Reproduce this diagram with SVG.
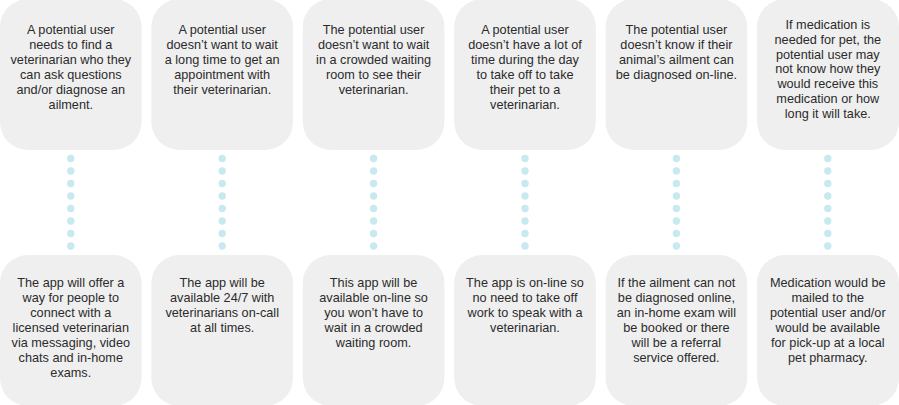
<svg xmlns="http://www.w3.org/2000/svg" width="899" height="405" viewBox="0 0 899 405">
<style>
.box{fill:#efefef;}
.t{font-family:"Liberation Sans",Arial,Helvetica,sans-serif;font-size:12.7px;fill:#2b2b2b;text-anchor:middle;}
.dots{stroke:#c8e9f0;stroke-width:7.4;stroke-linecap:round;stroke-dasharray:0 12.5;fill:none;}
</style>
<rect width="899" height="405" fill="#ffffff"/>
<g id="connectors">
<line class="dots" x1="70.8" y1="158.5" x2="70.8" y2="246.2"/>
<line class="dots" x1="222.2" y1="158.5" x2="222.2" y2="246.2"/>
<line class="dots" x1="373.6" y1="158.5" x2="373.6" y2="246.2"/>
<line class="dots" x1="525" y1="158.5" x2="525" y2="246.2"/>
<line class="dots" x1="676.4" y1="158.5" x2="676.4" y2="246.2"/>
<line class="dots" x1="827.8" y1="158.5" x2="827.8" y2="246.2"/>
</g>
<g id="problem1">
<rect class="box" x="0" y="-1" width="141.6" height="151" rx="28"/>
<text class="t" x="70.8" y="34">A potential user<tspan x="70.8" dy="15">needs to find a</tspan><tspan x="70.8" dy="15">veterinarian who they</tspan><tspan x="70.8" dy="15">can ask questions</tspan><tspan x="70.8" dy="15">and/or diagnose an</tspan><tspan x="70.8" dy="15">ailment.</tspan></text>
</g>
<g id="problem2">
<rect class="box" x="151.4" y="-1" width="141.6" height="151" rx="28"/>
<text class="t" x="222.2" y="34">A potential user<tspan x="222.2" dy="15">doesn’t want to wait</tspan><tspan x="222.2" dy="15">a long time to get an</tspan><tspan x="222.2" dy="15">appointment with</tspan><tspan x="222.2" dy="15">their veterinarian.</tspan></text>
</g>
<g id="problem3">
<rect class="box" x="302.8" y="-1" width="141.6" height="151" rx="28"/>
<text class="t" x="373.6" y="34">The potential user<tspan x="373.6" dy="15">doesn’t want to wait</tspan><tspan x="373.6" dy="15">in a crowded waiting</tspan><tspan x="373.6" dy="15">room to see their</tspan><tspan x="373.6" dy="15">veterinarian.</tspan></text>
</g>
<g id="problem4">
<rect class="box" x="454.2" y="-1" width="141.6" height="151" rx="28"/>
<text class="t" x="525" y="34">A potential user<tspan x="525" dy="15">doesn’t have a lot of</tspan><tspan x="525" dy="15">time during the day</tspan><tspan x="525" dy="15">to take off to take</tspan><tspan x="525" dy="15">their pet to a</tspan><tspan x="525" dy="15">veterinarian.</tspan></text>
</g>
<g id="problem5">
<rect class="box" x="605.6" y="-1" width="141.6" height="151" rx="28"/>
<text class="t" x="676.4" y="34">The potential user<tspan x="676.4" dy="15">doesn’t know if their</tspan><tspan x="676.4" dy="15">animal’s ailment can</tspan><tspan x="676.4" dy="15">be diagnosed on-line.</tspan></text>
</g>
<g id="problem6">
<rect class="box" x="757" y="-1" width="142" height="151" rx="28"/>
<text class="t" x="827.8" y="29.3">If medication is<tspan x="827.8" dy="14.7">needed for pet, the</tspan><tspan x="827.8" dy="14.7">potential user may</tspan><tspan x="827.8" dy="14.7">not know how they</tspan><tspan x="827.8" dy="14.7">would receive this</tspan><tspan x="827.8" dy="14.7">medication or how</tspan><tspan x="827.8" dy="14.7">long it will take.</tspan></text>
</g>
<g id="solution1">
<rect class="box" x="0" y="255" width="141.6" height="151" rx="28"/>
<text class="t" x="70.8" y="286.7">The app will offer a<tspan x="70.8" dy="15">way for people to</tspan><tspan x="70.8" dy="15">connect with a</tspan><tspan x="70.8" dy="15">licensed veterinarian</tspan><tspan x="70.8" dy="15">via messaging, video</tspan><tspan x="70.8" dy="15">chats and in-home</tspan><tspan x="70.8" dy="15">exams.</tspan></text>
</g>
<g id="solution2">
<rect class="box" x="151.4" y="255" width="141.6" height="151" rx="28"/>
<text class="t" x="222.2" y="286.7">The app will be<tspan x="222.2" dy="15">available 24/7 with</tspan><tspan x="222.2" dy="15">veterinarians on-call</tspan><tspan x="222.2" dy="15">at all times.</tspan></text>
</g>
<g id="solution3">
<rect class="box" x="302.8" y="255" width="141.6" height="151" rx="28"/>
<text class="t" x="373.6" y="286.7">This app will be<tspan x="373.6" dy="15">available on-line so</tspan><tspan x="373.6" dy="15">you won’t have to</tspan><tspan x="373.6" dy="15">wait in a crowded</tspan><tspan x="373.6" dy="15">waiting room.</tspan></text>
</g>
<g id="solution4">
<rect class="box" x="454.2" y="255" width="141.6" height="151" rx="28"/>
<text class="t" x="525" y="286.7">The app is on-line so<tspan x="525" dy="15">no need to take off</tspan><tspan x="525" dy="15">work to speak with a</tspan><tspan x="525" dy="15">veterinarian.</tspan></text>
</g>
<g id="solution5">
<rect class="box" x="605.6" y="255" width="141.6" height="151" rx="28"/>
<text class="t" x="676.4" y="286.7">If the ailment can not<tspan x="676.4" dy="15">be diagnosed online,</tspan><tspan x="676.4" dy="15">an in-home exam will</tspan><tspan x="676.4" dy="15">be booked or there</tspan><tspan x="676.4" dy="15">will be a referral</tspan><tspan x="676.4" dy="15">service offered.</tspan></text>
</g>
<g id="solution6">
<rect class="box" x="757" y="255" width="142" height="151" rx="28"/>
<text class="t" x="827.8" y="286.7">Medication would be<tspan x="827.8" dy="15">mailed to the</tspan><tspan x="827.8" dy="15">potential user and/or</tspan><tspan x="827.8" dy="15">would be available</tspan><tspan x="827.8" dy="15">for pick-up at a local</tspan><tspan x="827.8" dy="15">pet pharmacy.</tspan></text>
</g>
</svg>
